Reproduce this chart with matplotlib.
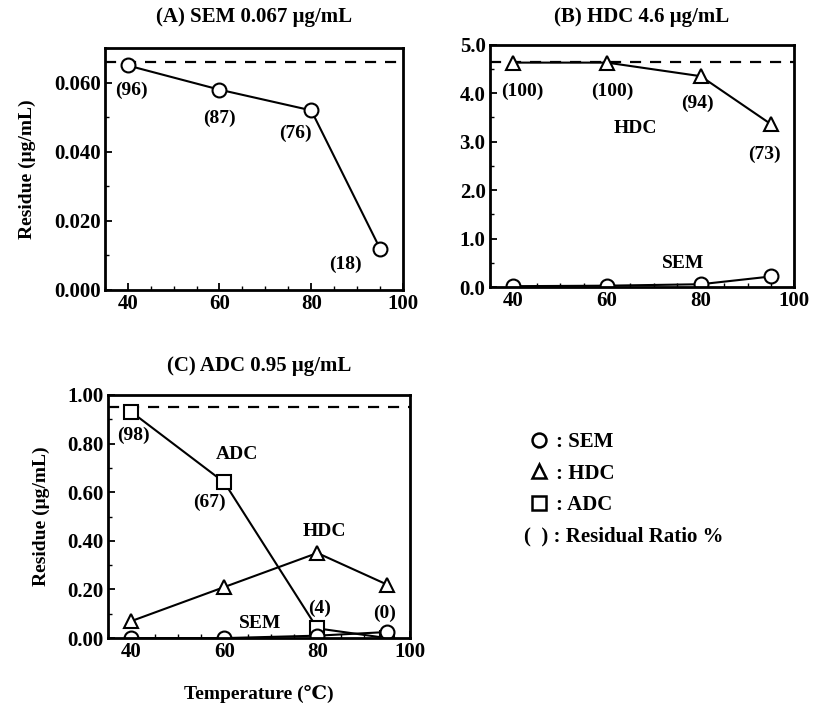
import matplotlib
matplotlib.use("Agg")
import matplotlib.pyplot as plt
from matplotlib.lines import Line2D
from matplotlib.ticker import MultipleLocator, FormatStrFormatter

plt.rcParams["font.family"] = ["Liberation Serif", "DejaVu Serif"]
plt.rcParams["font.weight"] = "bold"
plt.rcParams["mathtext.default"] = "regular"

# temperatures
temp = [40, 60, 80, 95]

# (A) SEM spiked 0.067 ug/mL
a_sem = [0.065, 0.058, 0.052, 0.012]
a_ratio = ["(96)", "(87)", "(76)", "(18)"]
a_ref = 0.066

# (B) HDC spiked 4.6 ug/mL
b_hdc = [4.63, 4.63, 4.35, 3.36]
b_sem = [0.02, 0.03, 0.06, 0.22]
b_ratio = ["(100)", "(100)", "(94)", "(73)"]
b_ref = 4.65

# (C) ADC spiked 0.95 ug/mL
c_adc = [0.93, 0.64, 0.04, 0.0]
c_hdc = [0.07, 0.21, 0.35, 0.22]
c_sem = [0.0, 0.0, 0.01, 0.025]
c_ratio = ["(98)", "(67)", "(4)", "(0)"]
c_ref = 0.95

mk = dict(color="black", linewidth=1.5, markerfacecolor="white",
          markeredgecolor="black", markeredgewidth=1.5, markersize=10)
fs = 15     # tick labels
fa = 14     # annotations


def style(ax, ylim, ymaj, ymin, fmt):
    ax.set_xlim(35, 100)
    ax.set_ylim(*ylim)
    ax.xaxis.set_major_locator(MultipleLocator(20))
    ax.xaxis.set_minor_locator(MultipleLocator(5))
    ax.yaxis.set_major_locator(MultipleLocator(ymaj))
    ax.yaxis.set_minor_locator(MultipleLocator(ymin))
    ax.yaxis.set_major_formatter(FormatStrFormatter(fmt))
    ax.tick_params(which="both", direction="in", labelsize=fs, pad=3)
    ax.tick_params(which="major", length=5, width=1.3)
    ax.tick_params(which="minor", length=3, width=1.0)
    for s in ax.spines.values():
        s.set_linewidth(2)
    for lab in ax.get_xticklabels() + ax.get_yticklabels():
        lab.set_fontweight("bold")


def ratios(ax, ys, labels, offs):
    for x, y, t, o in zip(temp, ys, labels, offs):
        ax.annotate(t, (x, y), xytext=o, textcoords="offset points",
                    ha="center", va="center", fontsize=fa, fontweight="bold")


fig = plt.figure(figsize=(8.19, 7.09), dpi=100)
ax_a = fig.add_axes([0.128, 0.591, 0.364, 0.341])
ax_b = fig.add_axes([0.598, 0.595, 0.372, 0.342])
ax_c = fig.add_axes([0.132, 0.100, 0.369, 0.343])

# panel A
ax_a.axhline(a_ref, color="black", linestyle=(0, (5, 4)), linewidth=1.6)
ax_a.plot(temp, a_sem, marker="o", **mk)
ratios(ax_a, a_sem, a_ratio, [(3, -18), (0, -21), (-11.5, -16.5), (-25, -11.5)])
style(ax_a, (0, 0.070), 0.020, 0.010, "%.3f")
ax_a.set_ylabel("Residue (μg/mL)", fontsize=14, fontweight="bold", labelpad=13)
ax_a.set_title("(A) SEM 0.067 μg/mL", fontsize=15, fontweight="bold", pad=19)

# panel B
ax_b.axhline(b_ref, color="black", linestyle=(0, (5, 4)), linewidth=1.6)
ax_b.plot(temp, b_hdc, marker="^", **mk)
ax_b.plot(temp, b_sem, marker="o", **mk)
ratios(ax_b, b_hdc, b_ratio, [(6.5, -21), (3.6, -21), (-2, -19.5), (-5, -21.6)])
ax_b.text(66, 3.28, "HDC", ha="center", va="center", fontsize=fa, fontweight="bold")
ax_b.text(76.3, 0.49, "SEM", ha="center", va="center", fontsize=fa, fontweight="bold")
style(ax_b, (0, 5.0), 1.0, 0.5, "%.1f")
ax_b.set_title("(B) HDC 4.6 μg/mL", fontsize=15, fontweight="bold", pad=16)

# panel C
ax_c.axhline(c_ref, color="black", linestyle=(0, (5, 4)), linewidth=1.6)
ax_c.plot(temp, c_adc, marker="s", **mk)
ax_c.plot(temp, c_hdc, marker="^", **mk)
ax_c.plot(temp, c_sem, marker="o", **mk)
ratios(ax_c, c_adc, c_ratio, [(1.5, -17), (-11, -14.5), (1.5, 14.5), (-1.5, 18)])
ax_c.text(62.8, 0.755, "ADC", ha="center", va="center", fontsize=fa, fontweight="bold")
ax_c.text(81.5, 0.44, "HDC", ha="center", va="center", fontsize=fa, fontweight="bold")
ax_c.text(67.8, 0.06, "SEM", ha="center", va="center", fontsize=fa, fontweight="bold")
style(ax_c, (0, 1.0), 0.20, 0.10, "%.2f")
ax_c.set_ylabel("Residue (μg/mL)", fontsize=14, fontweight="bold", labelpad=13)
ax_c.set_xlabel("Temperature (℃)", fontsize=14, fontweight="bold", labelpad=16)
ax_c.set_title("(C) ADC 0.95 μg/mL", fontsize=15, fontweight="bold", pad=17)

# key
hkw = dict(color="none", markerfacecolor="white", markeredgecolor="black",
           markeredgewidth=1.8, markersize=10)
handles = [Line2D([], [], marker="o", **hkw),
           Line2D([], [], marker="^", **hkw),
           Line2D([], [], marker="s", **hkw)]
fig.legend(handles, [": SEM", ": HDC", ": ADC"], loc="upper left",
           bbox_to_anchor=(0.622, 0.417), frameon=False, handlelength=1.0,
           handletextpad=0.35, labelspacing=0.55, prop={"weight": "bold", "size": 15})
fig.text(0.640, 0.243, "(  ) : Residual Ratio %", fontsize=15, fontweight="bold",
         va="center")

fig.savefig("out.png", dpi=100)
